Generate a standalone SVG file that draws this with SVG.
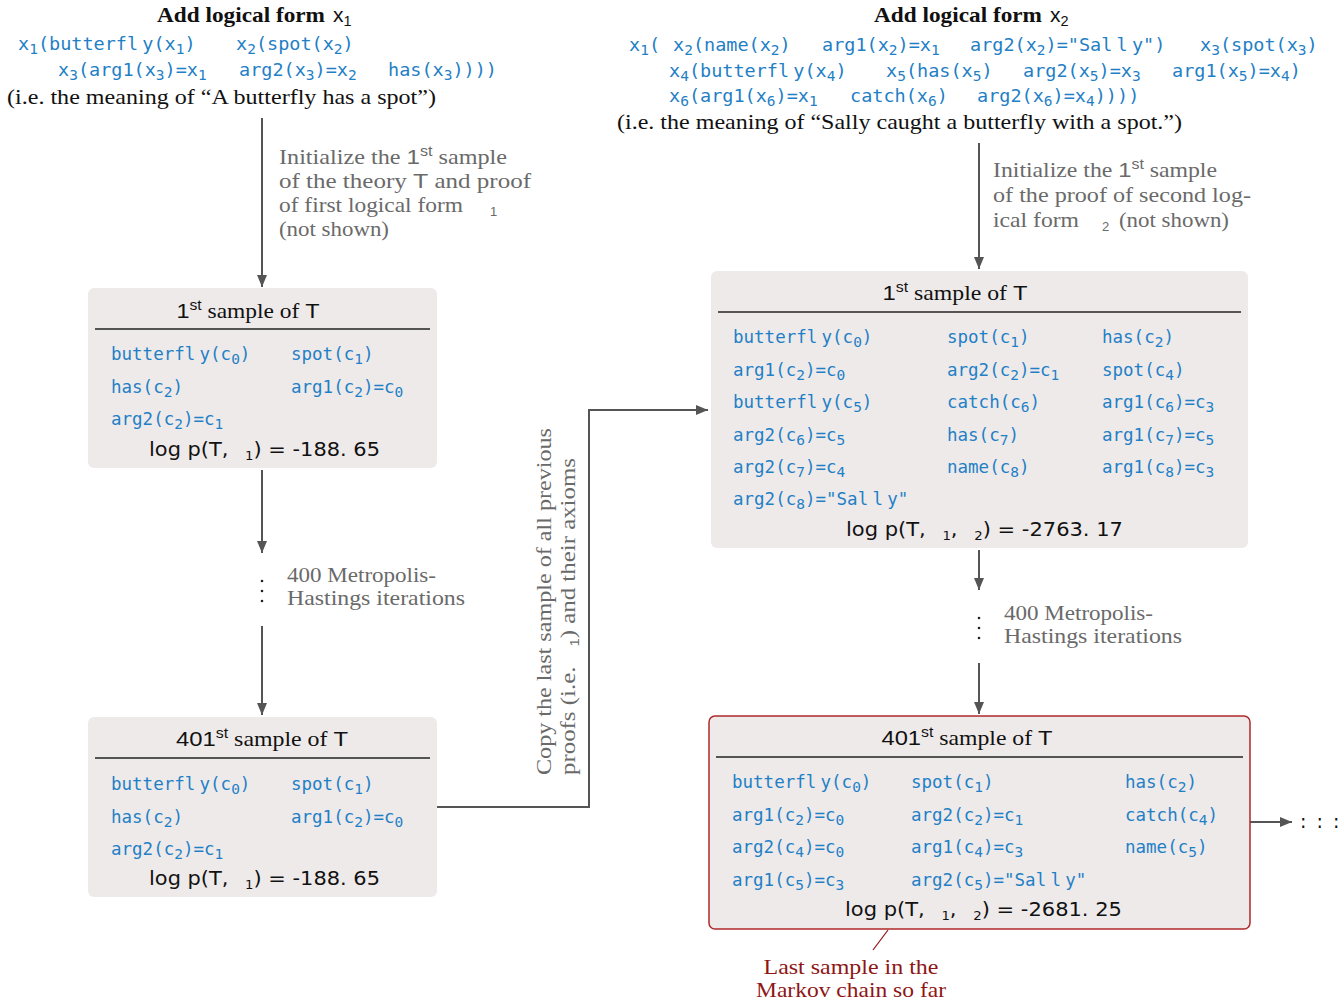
<svg xmlns="http://www.w3.org/2000/svg" width="1344" height="1006" viewBox="0 0 1344 1006">
<style>
.m{font-family:"DejaVu Sans Mono",monospace;font-size:17.5px;fill:#1f80c6}
.mt{font-size:18.5px}
.s{font-size:14.5px;baseline-shift:-3.5px}
.ls{font-size:12px;baseline-shift:-4px}
.gap{font-size:7px}
.sup{font-family:"Liberation Sans",sans-serif;font-size:14px;baseline-shift:8px}
.r{font-family:"Liberation Serif",serif;font-size:21px;fill:#111}
.b{font-weight:bold}
.g{fill:#6a6a6a}
.sans{font-family:"Liberation Sans",sans-serif}
.lp{font-family:"DejaVu Sans",sans-serif;font-size:19px;fill:#111}
.red{fill:#8e1616}
.box{fill:#eeeaea}
.rule{stroke:#222;stroke-width:1.6}
.conn{stroke:#555;stroke-width:2;fill:none}
.dot{fill:#222}
</style>
<defs>
<marker id="ah" viewBox="0 0 12 10" refX="12" refY="5" markerWidth="12" markerHeight="10" markerUnits="userSpaceOnUse" orient="auto"><path d="M0,0 L12,5 L0,10 z" fill="#555"/></marker>
</defs>

<g id="header-left">
<text class="r b" x="157" y="22" textLength="168" lengthAdjust="spacingAndGlyphs">Add logical form</text>
<text class="r sans" x="333" y="22">x<tspan class="s">1</tspan></text>
<text class="m mt" x="18" y="50">x<tspan class="s">1</tspan>(butterfl<tspan class="gap"> </tspan>y(x<tspan class="s">1</tspan>)</text>
<text class="m mt" x="236" y="50">x<tspan class="s">2</tspan>(spot(x<tspan class="s">2</tspan>)</text>
<text class="m mt" x="58" y="76">x<tspan class="s">3</tspan>(arg1(x<tspan class="s">3</tspan>)=x<tspan class="s">1</tspan></text>
<text class="m mt" x="239" y="76">arg2(x<tspan class="s">3</tspan>)=x<tspan class="s">2</tspan></text>
<text class="m mt" x="388" y="76">has(x<tspan class="s">3</tspan>))))</text>
<text class="r" x="7" y="104" textLength="429" lengthAdjust="spacingAndGlyphs">(i.e.  the meaning of “A butterfly has a spot”)</text>
</g>

<g id="header-right">
<text class="r b" x="874" y="22" textLength="168" lengthAdjust="spacingAndGlyphs">Add logical form</text>
<text class="r sans" x="1050" y="22">x<tspan class="s">2</tspan></text>
<text class="m mt" x="629" y="51">x<tspan class="s">1</tspan>(</text>
<text class="m mt" x="673" y="51">x<tspan class="s">2</tspan>(name(x<tspan class="s">2</tspan>)</text>
<text class="m mt" x="822" y="51">arg1(x<tspan class="s">2</tspan>)=x<tspan class="s">1</tspan></text>
<text class="m mt" x="970" y="51">arg2(x<tspan class="s">2</tspan>)="Sal<tspan class="gap"> </tspan>l<tspan class="gap"> </tspan>y")</text>
<text class="m mt" x="1200" y="51">x<tspan class="s">3</tspan>(spot(x<tspan class="s">3</tspan>)</text>
<text class="m mt" x="669" y="77">x<tspan class="s">4</tspan>(butterfl<tspan class="gap"> </tspan>y(x<tspan class="s">4</tspan>)</text>
<text class="m mt" x="886" y="77">x<tspan class="s">5</tspan>(has(x<tspan class="s">5</tspan>)</text>
<text class="m mt" x="1023" y="77">arg2(x<tspan class="s">5</tspan>)=x<tspan class="s">3</tspan></text>
<text class="m mt" x="1172" y="77">arg1(x<tspan class="s">5</tspan>)=x<tspan class="s">4</tspan>)</text>
<text class="m mt" x="669" y="102">x<tspan class="s">6</tspan>(arg1(x<tspan class="s">6</tspan>)=x<tspan class="s">1</tspan></text>
<text class="m mt" x="850" y="102">catch(x<tspan class="s">6</tspan>)</text>
<text class="m mt" x="977" y="102">arg2(x<tspan class="s">6</tspan>)=x<tspan class="s">4</tspan>))))</text>
<text class="r" x="617" y="129" textLength="565" lengthAdjust="spacingAndGlyphs">(i.e.  the meaning of “Sally caught a butterfly with a spot.”)</text>
</g>

<g id="connectors">
<line class="conn" x1="262" y1="118" x2="262" y2="287" marker-end="url(#ah)"/>
<line class="conn" x1="262" y1="470" x2="262" y2="553" marker-end="url(#ah)"/>
<line class="conn" x1="262" y1="626" x2="262" y2="715" marker-end="url(#ah)"/>
<polyline class="conn" points="437,807 589,807 589,410 708,410" marker-end="url(#ah)"/>
<line class="conn" x1="979" y1="143" x2="979" y2="269" marker-end="url(#ah)"/>
<line class="conn" x1="979" y1="550" x2="979" y2="590" marker-end="url(#ah)"/>
<line class="conn" x1="979" y1="663" x2="979" y2="714" marker-end="url(#ah)"/>
<line class="conn" x1="1250" y1="822" x2="1292" y2="822" marker-end="url(#ah)"/>
<line x1="888" y1="930" x2="873" y2="950" stroke="#8e1616" stroke-width="1.2"/>
</g>

<g id="label-init1">
<text class="r g" x="279" y="164" textLength="228" lengthAdjust="spacingAndGlyphs">Initialize the <tspan class="sans">1</tspan><tspan class="sup">st</tspan> sample</text>
<text class="r g" x="279" y="188" textLength="252" lengthAdjust="spacingAndGlyphs">of the theory <tspan class="sans">T</tspan> and proof</text>
<text class="r g" x="279" y="212" textLength="184" lengthAdjust="spacingAndGlyphs">of first logical form</text>
<text class="g sans" x="490" y="216" font-size="13">1</text>
<text class="r g" x="279" y="236" textLength="110" lengthAdjust="spacingAndGlyphs">(not shown)</text>
</g>

<g id="label-init2">
<text class="r g" x="993" y="177" textLength="224" lengthAdjust="spacingAndGlyphs">Initialize the <tspan class="sans">1</tspan><tspan class="sup">st</tspan> sample</text>
<text class="r g" x="993" y="202" textLength="258" lengthAdjust="spacingAndGlyphs">of the proof of second log-</text>
<text class="r g" x="993" y="227" textLength="86" lengthAdjust="spacingAndGlyphs">ical form</text>
<text class="g sans" x="1102" y="231" font-size="13">2</text>
<text class="r g" x="1119" y="227" textLength="110" lengthAdjust="spacingAndGlyphs">(not shown)</text>
</g>

<g id="mh-left">
<circle class="dot" cx="262" cy="581" r="1.3"/>
<circle class="dot" cx="262" cy="591" r="1.3"/>
<circle class="dot" cx="262" cy="601" r="1.3"/>
<text class="r g" x="287" y="582" textLength="149" lengthAdjust="spacingAndGlyphs">400 Metropolis-</text>
<text class="r g" x="287" y="605" textLength="178" lengthAdjust="spacingAndGlyphs">Hastings iterations</text>
</g>

<g id="mh-right">
<circle class="dot" cx="979" cy="618" r="1.3"/>
<circle class="dot" cx="979" cy="628" r="1.3"/>
<circle class="dot" cx="979" cy="638" r="1.3"/>
<text class="r g" x="1004" y="620" textLength="149" lengthAdjust="spacingAndGlyphs">400 Metropolis-</text>
<text class="r g" x="1004" y="643" textLength="178" lengthAdjust="spacingAndGlyphs">Hastings iterations</text>
</g>

<g id="label-copy">
<text class="r g" transform="translate(551,775) rotate(-90)" textLength="347" lengthAdjust="spacingAndGlyphs">Copy the last sample of all previous</text>
<text class="r g" transform="translate(575,775) rotate(-90)" textLength="317" lengthAdjust="spacingAndGlyphs">proofs (i.e. <tspan class="sans ls" font-size="13" dx="12">1</tspan>) and their axioms</text>
</g>

<g id="box1">
<rect class="box" x="88" y="288" width="349" height="180" rx="6"/>
<text class="r" x="248" y="318" text-anchor="middle" textLength="143" lengthAdjust="spacingAndGlyphs"><tspan class="sans">1</tspan><tspan class="sup">st</tspan> sample of <tspan class="sans">T</tspan></text>
<line class="rule" x1="95" y1="329" x2="430" y2="329"/>
<text class="m" x="111" y="360">butterfl<tspan class="gap"> </tspan>y(c<tspan class="s">0</tspan>)</text>
<text class="m" x="291" y="360">spot(c<tspan class="s">1</tspan>)</text>
<text class="m" x="111" y="393">has(c<tspan class="s">2</tspan>)</text>
<text class="m" x="291" y="393">arg1(c<tspan class="s">2</tspan>)=c<tspan class="s">0</tspan></text>
<text class="m" x="111" y="425">arg2(c<tspan class="s">2</tspan>)=c<tspan class="s">1</tspan></text>
<text class="lp" x="149" y="456" textLength="231" lengthAdjust="spacingAndGlyphs">log p(T, <tspan class="ls" dx="9">1</tspan>) = -188. 65</text>
</g>

<g id="box2">
<rect class="box" x="88" y="717" width="349" height="180" rx="6"/>
<text class="r" x="262" y="746" text-anchor="middle" textLength="172" lengthAdjust="spacingAndGlyphs"><tspan class="sans">401</tspan><tspan class="sup">st</tspan> sample of <tspan class="sans">T</tspan></text>
<line class="rule" x1="95" y1="758" x2="430" y2="758"/>
<text class="m" x="111" y="790">butterfl<tspan class="gap"> </tspan>y(c<tspan class="s">0</tspan>)</text>
<text class="m" x="291" y="790">spot(c<tspan class="s">1</tspan>)</text>
<text class="m" x="111" y="823">has(c<tspan class="s">2</tspan>)</text>
<text class="m" x="291" y="823">arg1(c<tspan class="s">2</tspan>)=c<tspan class="s">0</tspan></text>
<text class="m" x="111" y="855">arg2(c<tspan class="s">2</tspan>)=c<tspan class="s">1</tspan></text>
<text class="lp" x="149" y="885" textLength="231" lengthAdjust="spacingAndGlyphs">log p(T, <tspan class="ls" dx="9">1</tspan>) = -188. 65</text>
</g>

<g id="box3">
<rect class="box" x="711" y="271" width="537" height="277" rx="6"/>
<text class="r" x="955" y="300" text-anchor="middle" textLength="145" lengthAdjust="spacingAndGlyphs"><tspan class="sans">1</tspan><tspan class="sup">st</tspan> sample of <tspan class="sans">T</tspan></text>
<line class="rule" x1="718" y1="312" x2="1241" y2="312"/>
<text class="m" x="733" y="343">butterfl<tspan class="gap"> </tspan>y(c<tspan class="s">0</tspan>)</text>
<text class="m" x="947" y="343">spot(c<tspan class="s">1</tspan>)</text>
<text class="m" x="1102" y="343">has(c<tspan class="s">2</tspan>)</text>
<text class="m" x="733" y="376">arg1(c<tspan class="s">2</tspan>)=c<tspan class="s">0</tspan></text>
<text class="m" x="947" y="376">arg2(c<tspan class="s">2</tspan>)=c<tspan class="s">1</tspan></text>
<text class="m" x="1102" y="376">spot(c<tspan class="s">4</tspan>)</text>
<text class="m" x="733" y="408">butterfl<tspan class="gap"> </tspan>y(c<tspan class="s">5</tspan>)</text>
<text class="m" x="947" y="408">catch(c<tspan class="s">6</tspan>)</text>
<text class="m" x="1102" y="408">arg1(c<tspan class="s">6</tspan>)=c<tspan class="s">3</tspan></text>
<text class="m" x="733" y="441">arg2(c<tspan class="s">6</tspan>)=c<tspan class="s">5</tspan></text>
<text class="m" x="947" y="441">has(c<tspan class="s">7</tspan>)</text>
<text class="m" x="1102" y="441">arg1(c<tspan class="s">7</tspan>)=c<tspan class="s">5</tspan></text>
<text class="m" x="733" y="473">arg2(c<tspan class="s">7</tspan>)=c<tspan class="s">4</tspan></text>
<text class="m" x="947" y="473">name(c<tspan class="s">8</tspan>)</text>
<text class="m" x="1102" y="473">arg1(c<tspan class="s">8</tspan>)=c<tspan class="s">3</tspan></text>
<text class="m" x="733" y="505">arg2(c<tspan class="s">8</tspan>)="Sal<tspan class="gap"> </tspan>l<tspan class="gap"> </tspan>y"</text>
<text class="lp" x="846" y="536" textLength="277" lengthAdjust="spacingAndGlyphs">log p(T, <tspan class="ls" dx="9">1</tspan>, <tspan class="ls" dx="9">2</tspan>) = -2763. 17</text>
</g>

<g id="box4">
<rect class="box" x="709" y="716" width="541" height="213" rx="6" stroke="#b02a2a" stroke-width="1.5"/>
<text class="r" x="967" y="745" text-anchor="middle" textLength="171" lengthAdjust="spacingAndGlyphs"><tspan class="sans">401</tspan><tspan class="sup">st</tspan> sample of <tspan class="sans">T</tspan></text>
<line class="rule" x1="716" y1="757" x2="1243" y2="757"/>
<text class="m" x="732" y="788">butterfl<tspan class="gap"> </tspan>y(c<tspan class="s">0</tspan>)</text>
<text class="m" x="911" y="788">spot(c<tspan class="s">1</tspan>)</text>
<text class="m" x="1125" y="788">has(c<tspan class="s">2</tspan>)</text>
<text class="m" x="732" y="821">arg1(c<tspan class="s">2</tspan>)=c<tspan class="s">0</tspan></text>
<text class="m" x="911" y="821">arg2(c<tspan class="s">2</tspan>)=c<tspan class="s">1</tspan></text>
<text class="m" x="1125" y="821">catch(c<tspan class="s">4</tspan>)</text>
<text class="m" x="732" y="853">arg2(c<tspan class="s">4</tspan>)=c<tspan class="s">0</tspan></text>
<text class="m" x="911" y="853">arg1(c<tspan class="s">4</tspan>)=c<tspan class="s">3</tspan></text>
<text class="m" x="1125" y="853">name(c<tspan class="s">5</tspan>)</text>
<text class="m" x="732" y="886">arg1(c<tspan class="s">5</tspan>)=c<tspan class="s">3</tspan></text>
<text class="m" x="911" y="886">arg2(c<tspan class="s">5</tspan>)="Sal<tspan class="gap"> </tspan>l<tspan class="gap"> </tspan>y"</text>
<text class="lp" x="845" y="916" textLength="277" lengthAdjust="spacingAndGlyphs">log p(T, <tspan class="ls" dx="9">1</tspan>, <tspan class="ls" dx="9">2</tspan>) = -2681. 25</text>
</g>

<g id="continuation">
<text class="lp" x="1300" y="828" letter-spacing="2">: : :</text>
</g>

<g id="note-last">
<text class="r red" x="851" y="974" text-anchor="middle" textLength="175" lengthAdjust="spacingAndGlyphs">Last sample in the</text>
<text class="r red" x="851" y="997" text-anchor="middle" textLength="190" lengthAdjust="spacingAndGlyphs">Markov chain so far</text>
</g>
</svg>
